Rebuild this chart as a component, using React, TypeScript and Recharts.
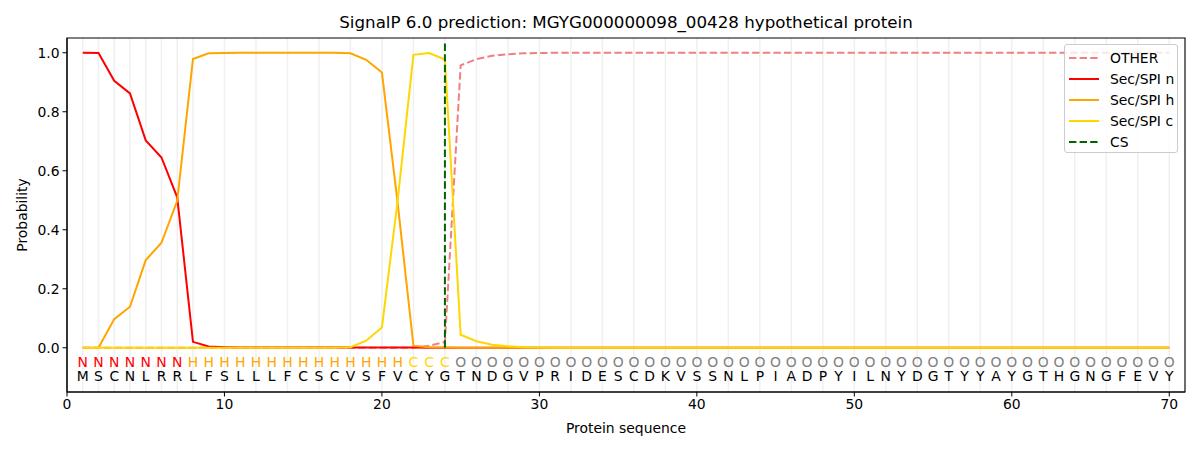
import React from 'react';
import {
  ComposedChart,
  Line,
  Scatter,
  XAxis,
  YAxis,
  CartesianGrid,
  ReferenceLine,
  ReferenceArea,
} from 'recharts';

const FONT = '"DejaVu Sans", sans-serif';

const residues = 'MSCNLRRLFSLLLFCSCVSFVCYGTNDGVPRIDESCDKVSSNLPIADPYILNYDGTYYAYGTHGNGFEVY'.split('');
const regionLabels = 'NNNNNNNHHHHHHHHHHHHHHCCCOOOOOOOOOOOOOOOOOOOOOOOOOOOOOOOOOOOOOOOOOOOOOO'.split('');

const otherProb = [
  0, 0, 0, 0, 0, 0, 0, 0, 0, 0,
  0, 0, 0, 0, 0, 0, 0, 0, 0, 0,
  0, 0, 0.007, 0.02, 0.957, 0.978, 0.99, 0.995, 0.998, 0.999,
  1, 1, 1, 1, 1, 1, 1, 1, 1, 1,
  1, 1, 1, 1, 1, 1, 1, 1, 1, 1,
  1, 1, 1, 1, 1, 1, 1, 1, 1, 1,
  1, 1, 1, 1, 1, 1, 1, 1, 1, 1,
];
const nProb = [
  1.0, 0.999, 0.905, 0.862, 0.703, 0.645, 0.51, 0.02, 0.004, 0.002,
  0.001, 0.001, 0.001, 0.001, 0.001, 0.001, 0.001, 0.001, 0.001, 0.001,
  0.001, 0.001, 0, 0, 0, 0, 0, 0, 0, 0,
  0, 0, 0, 0, 0, 0, 0, 0, 0, 0,
  0, 0, 0, 0, 0, 0, 0, 0, 0, 0,
  0, 0, 0, 0, 0, 0, 0, 0, 0, 0,
  0, 0, 0, 0, 0, 0, 0, 0, 0, 0,
];
const hProb = [
  0, 0, 0.097, 0.139, 0.297, 0.356, 0.498, 0.979, 0.998, 0.999,
  1, 1, 1, 1, 1, 1, 1, 0.998, 0.976, 0.933,
  0.49, 0.007, 0.002, 0.001, 0, 0, 0, 0, 0, 0,
  0, 0, 0, 0, 0, 0, 0, 0, 0, 0,
  0, 0, 0, 0, 0, 0, 0, 0, 0, 0,
  0, 0, 0, 0, 0, 0, 0, 0, 0, 0,
  0, 0, 0, 0, 0, 0, 0, 0, 0, 0,
];
const cProb = [
  0, 0, 0, 0, 0, 0, 0, 0, 0, 0,
  0, 0, 0, 0, 0, 0, 0, 0.002, 0.024, 0.069,
  0.5, 0.993, 0.999, 0.977, 0.044, 0.022, 0.01, 0.005, 0.002, 0.001,
  0, 0, 0, 0, 0, 0, 0, 0, 0, 0,
  0, 0, 0, 0, 0, 0, 0, 0, 0, 0,
  0, 0, 0, 0, 0, 0, 0, 0, 0, 0,
  0, 0, 0, 0, 0, 0, 0, 0, 0, 0,
];

const cleavageSite = 24;
const xTicks = [0, 10, 20, 30, 40, 50, 60, 70];
const yTicks = [0, 0.2, 0.4, 0.6, 0.8, 1.0];

const LABEL_Y = -0.047;
const RESIDUE_Y = -0.095;
const LW = 2;
const DASH = '7.4 3.2';

const labelColors: Record<string, string> = {
  N: '#ff0000',
  H: '#ffa500',
  C: '#ffd700',
  O: '#808080',
};

const rows = residues.map((r, i) => ({
  pos: i + 1,
  other: otherProb[i],
  n: nProb[i],
  h: hProb[i],
  c: cProb[i],
}));

const labelRows = residues.map((r, i) => ({ pos: i + 1, y: LABEL_Y, text: regionLabels[i] }));
const residueRows = residues.map((r, i) => ({ pos: i + 1, y: RESIDUE_Y, text: r }));
const gridTicks = residues.map((r, i) => i + 1);

const legendItems = [
  { name: 'OTHER', color: '#f08080', dashed: true },
  { name: 'Sec/SPI n', color: '#ff0000', dashed: false },
  { name: 'Sec/SPI h', color: '#ffa500', dashed: false },
  { name: 'Sec/SPI c', color: '#ffd700', dashed: false },
  { name: 'CS', color: '#006400', dashed: true },
];

function ChartLegend() {
  return (
    <div
      style={{
        position: 'absolute',
        left: 1064,
        top: 44,
        width: 114,
        height: 109,
        border: '1px solid #cccccc',
        borderRadius: 3,
        background: 'rgba(255,255,255,0.8)',
        fontFamily: FONT,
        fontSize: 13.9,
        color: '#000',
        paddingTop: 2,
        boxSizing: 'border-box',
        whiteSpace: 'nowrap',
        overflow: 'visible',
      }}>
      {legendItems.map((item) => (
        <div key={item.name} style={{ display: 'flex', alignItems: 'center', height: 21, marginLeft: 4 }}>
          <svg width={30} height={4} style={{ marginRight: 11, flexShrink: 0 }}>
            <line
              x1={0}
              y1={2}
              x2={30}
              y2={2}
              stroke={item.color}
              strokeWidth={LW}
              strokeDasharray={item.dashed ? DASH : undefined}
            />
          </svg>
          <span style={{ flexShrink: 0 }}>{item.name}</span>
        </div>
      ))}
    </div>
  );
}

const letterShape = (color: (t: string) => string) => (props: any) => {
  const { cx, cy, payload } = props;
  return (
    <text
      x={cx}
      y={cy}
      textAnchor="middle"
      dominantBaseline="central"
      fontSize={13.9}
      fontFamily={FONT}
      fill={color(payload.text)}>
      {payload.text}
    </text>
  );
};

export default function App() {
  return (
    <div style={{ position: 'absolute', left: 0, top: 0, width: 1200, height: 450, background: '#fff' }}>
      <div
        style={{
          position: 'absolute',
          left: 67,
          width: 1118,
          top: 12,
          textAlign: 'center',
          fontFamily: FONT,
          fontSize: 16.7,
          color: '#000',
        }}>
        SignalP 6.0 prediction: MGYG000000098_00428 hypothetical protein
      </div>
      <ComposedChart
        width={1200}
        height={450}
        data={rows}
        margin={{ top: 38, right: 15, bottom: 0, left: 0 }}>
        <XAxis xAxisId="grid" dataKey="pos" type="number" domain={[0, 71]} ticks={gridTicks} hide />
        <CartesianGrid xAxisId="grid" horizontal={false} stroke="#f0f0f0" strokeWidth={1.5} />
        <XAxis
          dataKey="pos"
          type="number"
          domain={[0, 71]}
          ticks={xTicks}
          height={58}
          tickSize={4.5}
          tickMargin={3}
          tick={{ fill: '#000', fontSize: 13.9, fontFamily: FONT }}
          stroke="#000"
          label={(p: any) => {
            const vb = p.viewBox;
            return (
              <text x={vb.x + vb.width / 2} y={vb.y + 36} textAnchor="middle" dominantBaseline="central" fontSize={13.9} fontFamily={FONT} fill="#000">
                Protein sequence
              </text>
            );
          }}
        />
        <YAxis
          type="number"
          domain={[-0.15, 1.05]}
          ticks={yTicks}
          width={67}
          tickSize={4.5}
          tickMargin={3}
          tickFormatter={(v: number) => v.toFixed(1)}
          tick={{ fill: '#000', fontSize: 13.9, fontFamily: FONT }}
          stroke="#000"
          label={(p: any) => {
            const vb = p.viewBox;
            const x = 22;
            const y = vb.y + vb.height / 2;
            return (
              <text x={x} y={y} transform={`rotate(-90 ${x} ${y})`} textAnchor="middle" dominantBaseline="central" fontSize={13.9} fontFamily={FONT} fill="#000">
                Probability
              </text>
            );
          }}
        />
        <Line dataKey="other" stroke="#f08080" strokeWidth={LW} strokeDasharray={DASH} dot={false} isAnimationActive={false} />
        <Line dataKey="n" stroke="#ff0000" strokeWidth={LW} dot={false} isAnimationActive={false} />
        <Line dataKey="h" stroke="#ffa500" strokeWidth={LW} dot={false} isAnimationActive={false} />
        <Line dataKey="c" stroke="#ffd700" strokeWidth={LW} dot={false} isAnimationActive={false} />
        <ReferenceLine
          segment={[
            { x: cleavageSite, y: 0 },
            { x: cleavageSite, y: 1.035 },
          ]}
          stroke="#006400"
          strokeWidth={LW}
          strokeDasharray={DASH}
        />
        <Scatter data={labelRows} dataKey="y" isAnimationActive={false} shape={letterShape((t) => labelColors[t])} />
        <Scatter data={residueRows} dataKey="y" isAnimationActive={false} shape={letterShape(() => '#000')} />
        <ReferenceArea x1={0} x2={71} y1={-0.15} y2={1.05} fill="none" stroke="#000" strokeWidth={1.1} />
      </ComposedChart>
      <ChartLegend />
    </div>
  );
}
